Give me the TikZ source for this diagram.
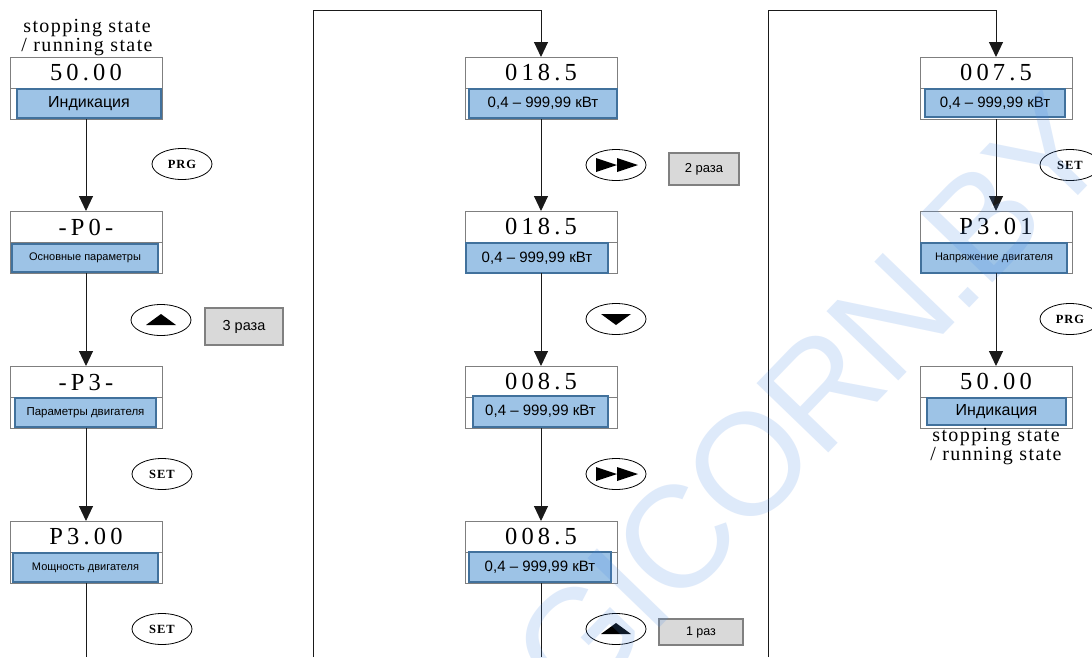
\documentclass[tikz,border=0pt]{standalone}
\usepackage{fontspec}
\setmainfont{Liberation Serif}
\setsansfont{Liberation Sans}
\newfontfamily\dispfont[LetterSpace=17]{Liberation Serif}
\newfontfamily\statefont[LetterSpace=7]{Liberation Serif}
\newfontfamily\keyfont[LetterSpace=8]{Liberation Serif}
\newfontfamily\markfont[LetterSpace=-3]{Liberation Sans}
\usetikzlibrary{arrows.meta,shapes.geometric}

\definecolor{panelblue}{HTML}{9DC3E6}
\definecolor{paneledge}{HTML}{41719C}
\definecolor{tagfill}{HTML}{D9D9D9}
\definecolor{tagedge}{HTML}{808080}
\definecolor{framegray}{HTML}{7F7F7F}
\definecolor{linegray}{HTML}{1A1A1A}
\definecolor{railgray}{HTML}{555555}
\definecolor{wmark}{RGB}{77,140,230}

\tikzset{
  dispbox/.style={draw=framegray, line width=1pt, fill=white, minimum width=152pt,
    minimum height=62pt, inner sep=0pt, outer sep=0pt},
  value/.style={font=\dispfont\fontsize{24.5}{26}\selectfont, inner sep=0pt},
  panel/.style={draw=paneledge, line width=2pt, fill=panelblue, inner sep=0pt, outer sep=0pt},
  lbl/.style={font=\sffamily, inner sep=0pt},
  key/.style={draw=black, line width=0.8pt, ellipse, minimum width=60pt, minimum height=31pt,
    inner sep=0pt, fill=white, font=\keyfont\bfseries\fontsize{12.5}{13}\selectfont},
  tag/.style={draw=tagedge, line width=1.8pt, fill=tagfill, inner sep=0pt, font=\sffamily},
  flow/.style={draw=linegray, line width=1pt, -{Triangle[width=14pt,length=15pt]}},
  plain/.style={draw=linegray, line width=1pt},
  state/.style={font=\statefont\fontsize{20}{19}\selectfont, align=center, inner sep=0pt},
}

% one parameter display: name, centre x, top y, value, panel x1, x2, y1, y2, caption
\newcommand\disp[9]{%
  \node[dispbox] (#1) at (#2,#3+31) {};
  \draw[draw=framegray, line width=1pt] (#1.west) -- (#1.east);
  \node[value] (#1-v) at (#2,#3+16) {#4};
  \node[panel, minimum width={(#6-#5)*1pt}, minimum height={(#8-#7)*1pt}] (#1-p)
    at ({(#5+#6)/2},{(#7+#8)/2}) {};
  \node[lbl] (#1-t) at (#1-p) {#9};
}

\begin{document}
\begin{tikzpicture}[x=1pt,y=-1pt]
\fill[white] (0,0) rectangle (1092,657);
\useasboundingbox (0,0) rectangle (1092,657);

% ---------- column 1 ----------
\node[state] (s1) at (87,38) {stopping state\\/ running state};
\disp{a1}{86}{57}{50.00}{17}{161}{89}{118}{\fontsize{16}{18}\selectfont Индикация}
\disp{a2}{86}{211}{-P0-}{12}{158}{244}{272}{\fontsize{11}{12}\selectfont Основные параметры}
\disp{a3}{86}{366}{-P3-}{15}{156}{398}{427}{\fontsize{11.5}{12}\selectfont Параметры двигателя}
\disp{a4}{86}{521}{P3.00}{13}{158}{553}{582}{\fontsize{11}{12}\selectfont Мощность двигателя}
\coordinate (aend) at (86,657);

\draw[flow] (a1.south) -- (a2.north);
\draw[flow] (a2.south) -- (a3.north);
\draw[flow] (a3.south) -- (a4.north);
\draw[plain] (a4.south) -- (aend);

\node[key] (k1) at (182,164) {PRG};
\node[key] (k2) at (161,320) {};
\fill[shift={(k2.center)}] (-15,5) -- (15,5) -- (0,-6) -- cycle;
\node[key] (k3) at (162,474) {SET};
\node[key] (k4) at (162,629) {SET};
\node[tag, minimum width=78pt, minimum height=37pt, font=\sffamily\fontsize{14.5}{16}\selectfont] (t1) at (244,326.5) {3 раза};

% ---------- column 2 ----------
\coordinate (r1b) at (313,657);
\coordinate (r1t) at (313,10);
\disp{b1}{541}{57}{018.5}{469}{617}{89}{118}{\fontsize{15}{17}\selectfont 0,4 – 999,99 кВт}
\disp{b2}{541}{211}{018.5}{466}{608}{243}{273}{\fontsize{15}{17}\selectfont 0,4 – 999,99 кВт}
\disp{b3}{541}{366}{008.5}{473}{608}{396}{427}{\fontsize{15}{17}\selectfont 0,4 – 999,99 кВт}
\disp{b4}{541}{521}{008.5}{469}{611}{552}{582}{\fontsize{15}{17}\selectfont 0,4 – 999,99 кВт}
\coordinate (bend) at (541,657);

\draw[flow] (r1b) -- (r1t) -| (b1.north);
\draw[flow] (b1.south) -- (b2.north);
\draw[flow] (b2.south) -- (b3.north);
\draw[flow] (b3.south) -- (b4.north);
\draw[plain] (b4.south) -- (bend);

\node[key] (k5) at (616,165) {};
\fill[shift={(k5.center)}] (-20,-7) -- (-20,7) -- (1,0) -- cycle (1,-7) -- (1,7) -- (22,0) -- cycle;
\node[key] (k6) at (616,319) {};
\fill[shift={(k6.center)}] (-15,-5) -- (15,-5) -- (0,6) -- cycle;
\node[key] (k7) at (616,474) {};
\fill[shift={(k7.center)}] (-20,-7) -- (-20,7) -- (1,0) -- cycle (1,-7) -- (1,7) -- (22,0) -- cycle;
\node[key] (k8) at (616,629) {};
\fill[shift={(k8.center)}] (-15,5) -- (15,5) -- (0,-6) -- cycle;
\node[tag, minimum width=70pt, minimum height=32pt, font=\sffamily\fontsize{13}{15}\selectfont] (t2) at (704,169) {2 раза};
\node[tag, minimum width=84pt, minimum height=26pt, font=\sffamily\fontsize{12.5}{14}\selectfont] (t3) at (701,632) {1 раз};

% ---------- column 3 ----------
\coordinate (r2b) at (768,657);
\coordinate (r2t) at (768,10);
\disp{c1}{996}{57}{007.5}{925}{1065}{89}{117}{\fontsize{15}{17}\selectfont 0,4 – 999,99 кВт}
\disp{c2}{996}{211}{P3.01}{921}{1067}{243}{273}{\fontsize{11}{12}\selectfont Напряжение двигателя}
\disp{c3}{996}{366}{50.00}{927}{1066}{398}{425}{\fontsize{16}{18}\selectfont Индикация}
\node[state] (s2) at (996,447) {stopping state\\/ running state};

\draw[flow] (r2b) -- (r2t) -| (c1.north);
\draw[flow] (c1.south) -- (c2.north);
\draw[flow] (c2.south) -- (c3.north);

\node[key] (k9) at (1070,165) {SET};
\node[key] (k10) at (1070,319) {PRG};

% ---------- watermark ----------
\begin{scope}
  \clip (0,0) rectangle (1092,657);
  \node[font=\markfont\fontsize{145}{145}\selectfont, text=wmark, opacity=0.18,
    anchor=base west, rotate=46, inner sep=0pt] (wm) at (575,716) {GICORN.BY};
\end{scope}
\end{tikzpicture}
\end{document}
